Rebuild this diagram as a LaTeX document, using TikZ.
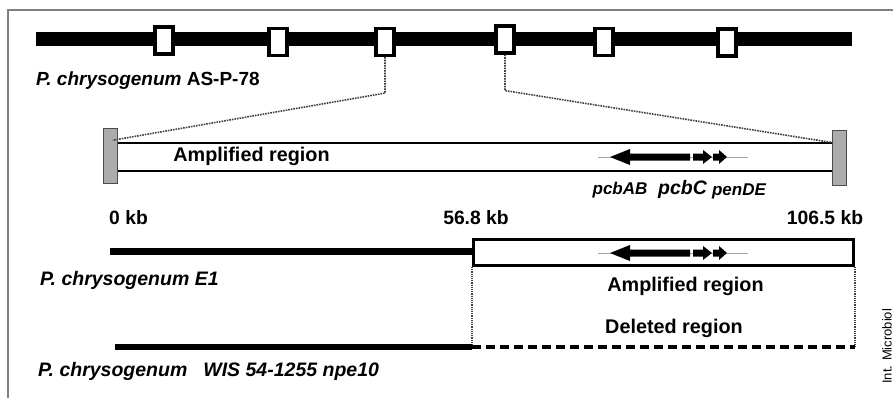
\documentclass[tikz,border=0pt]{standalone}
\usepackage{fontspec}
\setmainfont{Liberation Sans}
\begin{document}
\begin{tikzpicture}[x=1pt,y=-1pt,
  lbl/.style={font=\bfseries\fontsize{19.5}{22}\selectfont, inner sep=0pt, anchor=west},
  txt/.style={font=\bfseries\fontsize{19.8}{22}\selectfont, inner sep=0pt},
  kb/.style={font=\bfseries\fontsize{19.3}{22}\selectfont, inner sep=0pt},
  gene/.style={font=\bfseries\itshape\fontsize{#1}{#1}\selectfont, inner sep=0pt},
  locus/.style={draw, line width=3.2pt, fill=white, minimum width=18pt, minimum height=27pt, inner sep=0pt},
  endcap/.style={draw=gray!60!black, line width=0.6pt, fill=gray!65, minimum width=14pt, minimum height=55pt, inner sep=0pt},
  conn/.style={densely dotted, line width=1.6pt, draw=black!75},
  vconn/.style={densely dotted, line width=1.2pt, draw=black!75}
]
\useasboundingbox (0,0) rectangle (893,397);
% frame
\draw[gray, line width=2pt] (8,398) -- (8,10) -- (893,10);

% chromosome AS-P-78
\draw[line width=14pt] (36,39) -- (852,39);
\node[locus] (b1) at (164,40.5) {};
\node[locus] (b2) at (278,42) {};
\node[locus] (b3) at (385,42) {};
\node[locus] (b4) at (505,39.5) {};
\node[locus] (b5) at (604,42) {};
\node[locus] (b6) at (727,42.5) {};
\node[lbl, font=\bfseries\fontsize{19}{22}\selectfont] (asp) at (36,81) {\itshape P. chrysogenum\/ \upshape AS-P-78};

% amplified region detail
\node[endcap] (gl) at (110.5,156) {};
\node[endcap] (gr) at (839.5,157.5) {};
\draw[line width=2.5pt] (gl.east |- 0,143) -- (gr.west |- 0,143);
\draw[line width=2.5pt] (gl.east |- 0,171) -- (gr.west |- 0,171);
\draw[conn] (b3.south) -- ++(0,36) -- ([xshift=-5pt,yshift=-12pt]gl.north east);
\draw[conn] (b4.south) -- ++(0,36) -- ([xshift=1pt,yshift=-13pt]gr.north west);
\node[txt] (amp1) at (251.5,156) {Amplified region};

% gene cluster 1
\begin{scope}[shift={(0,157)}]
  \draw[gray!70, line width=1pt] (598,0) -- (748,0);
  \fill (610,0) -- (630,-8) -- (630,-3.5) -- (690,-3.5) -- (690,3.5) -- (630,3.5) -- (630,8) -- cycle;
  \fill (693,-3.5) -- (703,-3.5) -- (703,-7) -- (712,0) -- (703,7) -- (703,3.5) -- (693,3.5) -- cycle;
  \fill (713,-3.5) -- (719,-3.5) -- (719,-7) -- (727,0) -- (719,7) -- (719,3.5) -- (713,3.5) -- cycle;
\end{scope}
\node[gene=17] (pab) at (620,190) {pcbAB};
\node[gene=19.5] (pc) at (682.5,189) {pcbC};
\node[gene=17] (pde) at (739,191) {penDE};

% scale
\node[kb] (k0) at (128.5,218) {0 kb};
\node[kb] (k1) at (476,218) {56.8 kb};
\node[kb] (k2) at (825,218) {106.5 kb};

% E1
\draw[line width=7pt] (110,251) -- (472,251);
\node[draw, line width=3pt, minimum width=380pt, minimum height=26pt, inner sep=0pt] (e1box) at (663.5,252.5) {};
\begin{scope}[shift={(0,253)}]
  \draw[gray!70, line width=1pt] (598,0) -- (748,0);
  \fill (610,0) -- (630,-8) -- (630,-3.5) -- (690,-3.5) -- (690,3.5) -- (630,3.5) -- (630,8) -- cycle;
  \fill (693,-3.5) -- (703,-3.5) -- (703,-7) -- (712,0) -- (703,7) -- (703,3.5) -- (693,3.5) -- cycle;
  \fill (713,-3.5) -- (719,-3.5) -- (719,-7) -- (727,0) -- (719,7) -- (719,3.5) -- (713,3.5) -- cycle;
\end{scope}
\node[lbl] (e1) at (40,280) {\itshape P. chrysogenum E1};
\node[txt] (amp2) at (685.5,286) {Amplified region};

% deleted region
\coordinate (dl) at (e1box.south west |- 0,347);
\coordinate (dr) at (e1box.south east |- 0,347);
\draw[vconn] (e1box.south west) -- (dl);
\draw[vconn] (e1box.south east) -- (dr);
\node[txt] (del) at (674,328) {Deleted region};
\draw[line width=6pt] (115,347) -- (dl);
\draw[line width=4pt, dash pattern=on 9pt off 5pt] (dl) -- (dr);
\node[lbl] (wis) at (38,371) {\itshape P. chrysogenum\hspace{16pt}WIS 54-1255 npe10};

% credit
\node[rotate=90, anchor=south west, inner sep=0pt, font=\fontsize{13}{15}\selectfont] (credit) at (892,384) {Int. Microbiol};
\end{tikzpicture}
\end{document}
